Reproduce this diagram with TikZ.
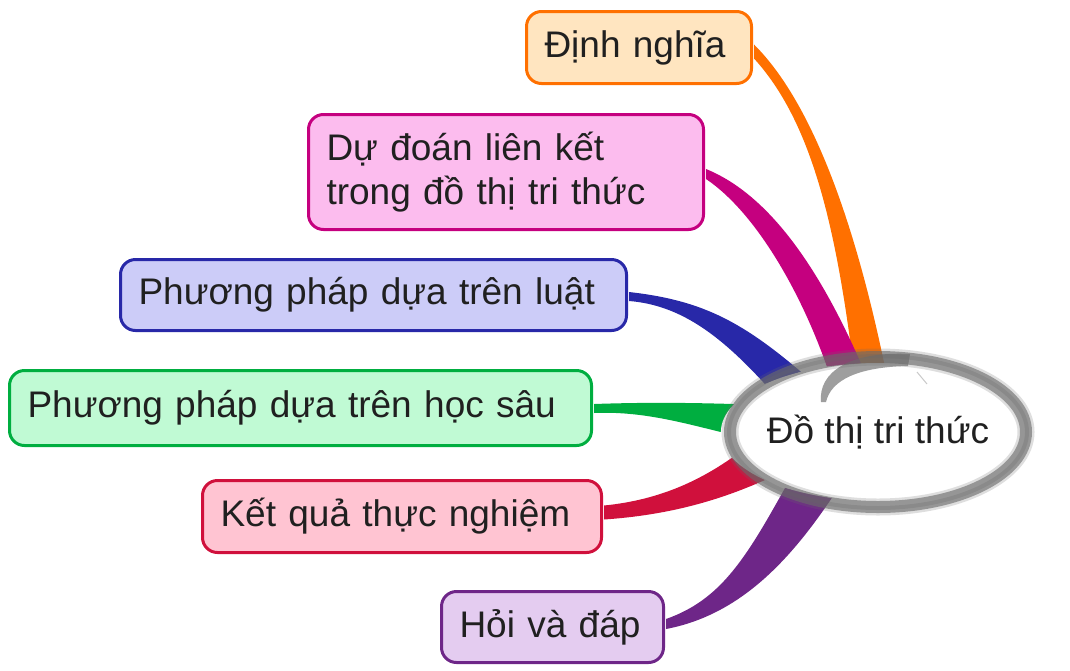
\documentclass[tikz,border=0pt]{standalone}
\usepackage{fontspec}
\setmainfont{Liberation Sans}
\usetikzlibrary{shapes.geometric,backgrounds,calc}
\definecolor{txt}{HTML}{202020}
\definecolor{orB}{HTML}{FF7000}\definecolor{orF}{HTML}{FFE5C0}
\definecolor{mgB}{HTML}{C5007F}\definecolor{mgF}{HTML}{FCBCEE}
\definecolor{blB}{HTML}{2828A8}\definecolor{blF}{HTML}{CCCCF8}
\definecolor{grB}{HTML}{00AE40}\definecolor{grF}{HTML}{C0FAD4}
\definecolor{rdB}{HTML}{D0103C}\definecolor{rdF}{HTML}{FFC4D2}
\definecolor{puB}{HTML}{6E2688}\definecolor{puF}{HTML}{E4CCF0}
\definecolor{ringc}{HTML}{6A6A6A}
\newcommand{\mfs}{\fontsize{37}{44}\selectfont}
\tikzset{
  box/.style={draw, line width=3pt, rounded corners=15pt, anchor=north west,
    inner xsep=18pt, inner ysep=0pt, font=\mfs, text=txt, align=left},
  ringsoft/.style={draw=ringc, line width=17pt, opacity=0.22},
  ringstroke/.style={draw=ringc, line width=12pt, opacity=0.62},
  ringdark/.style={draw=black!60, line width=4pt, opacity=0.25},
}
\begin{document}
\begin{tikzpicture}[x=1pt,y=-1pt]
\useasboundingbox (0,0) rectangle (1070,670);
% boxes
\node[box, draw=orB, fill=orF, minimum height=72pt, text width=189pt] (def) at (525,10) {Định nghĩa};
\node[box, draw=mgB, fill=mgF, minimum height=115pt, text width=359pt] (link) at (307,113) {Dự đoán liên kết\\trong đồ thị tri thức};
\node[box, draw=blB, fill=blF, minimum height=71pt, text width=470pt] (rule) at (119,258) {Phương pháp dựa trên luật};
\node[box, draw=grB, fill=grF, minimum height=75pt, text width=546pt] (deep) at (8,369) {Phương pháp dựa trên học sâu};
\node[box, draw=rdB, fill=rdF, minimum height=72pt, text width=363pt] (res) at (201,479) {Kết quả thực nghiệm};
\node[box, draw=puB, fill=puF, minimum height=71pt, text width=186pt] (qa) at (440,590) {Hỏi và đáp};
% centre
\node[ellipse, fill=white, minimum width=284pt, minimum height=138pt, inner sep=0pt, font=\mfs, text=txt] (c) at (878,432) {Đồ thị tri thức};
% branches
\begin{pgfonlayer}{background}
\fill[orB] ($(def.east)+(1,-3)$) .. controls (805,95) and (850,200) .. (c.85)
  -- (c.110) .. controls (835,220) and (810,120) .. ($(def.east)+(1,11)$) -- cycle;
\fill[mgB] ($(link.east)+(1,-3)$) .. controls (770,195) and (820,270) .. (c.104)
  -- (c.128) .. controls (800,290) and (755,212) .. ($(link.east)+(1,7)$) -- cycle;
\fill[blB] ($(rule.east)+(1,-3)$) .. controls (700,300) and (740,320) .. (c.142)
  -- (c.157) .. controls (720,335) and (680,305) .. ($(rule.east)+(1,6)$) -- cycle;
\fill[grB] ($(deep.east)+(1,-4)$) .. controls (650,402) and (700,403) .. (c.169)
  -- (c.180) .. controls (680,422) and (640,411) .. ($(deep.east)+(1,5)$) -- cycle;
\fill[rdB] ($(res.east)+(1,-11)$) .. controls (660,500) and (700,480) .. (c.190)
  -- (c.203) .. controls (720,500) and (670,515) .. ($(res.east)+(1,3)$) -- cycle;
\fill[puB] ($(qa.east)+(1,-8)$) .. controls (720,600) and (745,560) .. (c.211)
  -- (c.235) .. controls (790,560) and (740,615) .. ($(qa.east)+(1,2)$) -- cycle;
\end{pgfonlayer}
% brush ring
\draw[ringsoft] (c.center) ellipse [x radius=148pt, y radius=75pt];
\draw[ringstroke] (c.center) ellipse [x radius=148pt, y radius=75pt];
\draw[ringdark] (c.center) ellipse [x radius=149pt, y radius=76pt];
\fill[ringc, opacity=0.65] (910,354) .. controls (850,351) and (818,372) .. (821,402)
  -- (826,402) .. controls (831,380) and (858,367) .. (908,366) -- cycle;
\draw[black!35, line width=1pt, opacity=0.6] (917,372) -- (927,384);
\end{tikzpicture}
\end{document}
